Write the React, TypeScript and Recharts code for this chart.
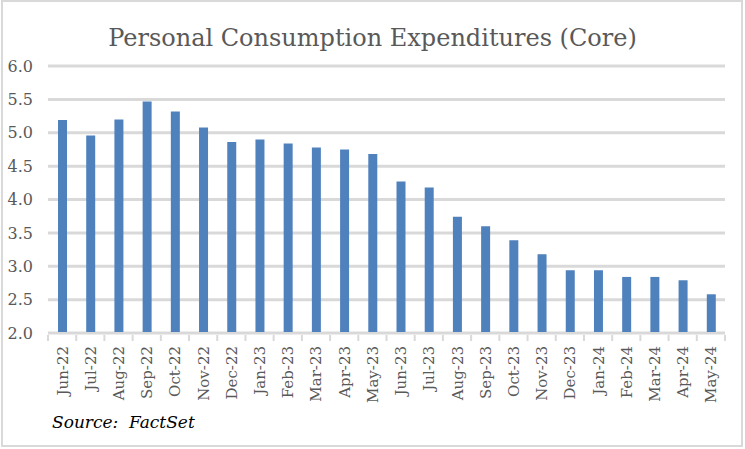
import { Bar, BarChart, CartesianGrid, XAxis, YAxis } from 'recharts'

const months = [
  'Jun-22', 'Jul-22', 'Aug-22', 'Sep-22', 'Oct-22', 'Nov-22', 'Dec-22', 'Jan-23',
  'Feb-23', 'Mar-23', 'Apr-23', 'May-23', 'Jun-23', 'Jul-23', 'Aug-23', 'Sep-23',
  'Oct-23', 'Nov-23', 'Dec-23', 'Jan-24', 'Feb-24', 'Mar-24', 'Apr-24', 'May-24',
]

const corePce = [
  5.19, 4.96, 5.2, 5.47, 5.32, 5.08, 4.86, 4.9, 4.84, 4.78, 4.75, 4.68,
  4.27, 4.18, 3.74, 3.6, 3.39, 3.18, 2.94, 2.94, 2.84, 2.84, 2.79, 2.58,
]

const yTicks = [2, 2.5, 3, 3.5, 4, 4.5, 5, 5.5, 6]

const data = months.map((name, i) => ({ name, value: corePce[i] }))

const W = 745
const H = 449
const MARGIN = { top: 66, right: 20, left: 0, bottom: 0 }
const Y_WIDTH = 48
const BAND = (W - MARGIN.right - Y_WIDTH) / months.length
const FONT = '"DejaVu Serif", serif'

function MonthTick(props: any) {
  const { x, y, payload, index } = props
  const half = BAND / 2
  return (
    <g>
      <line x1={x - half} x2={x - half} y1={y - 6} y2={y} stroke="#d9d9d9" strokeWidth={2} />
      {index === months.length - 1 && (
        <line x1={x + half} x2={x + half} y1={y - 6} y2={y} stroke="#d9d9d9" strokeWidth={2} />
      )}
      <text
        x={0}
        y={0}
        transform={`translate(${x + 5.5},${y + 5}) rotate(-90)`}
        textAnchor="end"
        fill="#595959"
        fontSize={15}
        fontFamily={FONT}
      >
        {payload.value}
      </text>
    </g>
  )
}

export default function App() {
  return (
    <div style={{ position: 'absolute', left: 0, top: 0, width: W, height: H, background: '#fff' }}>
      <div
        style={{
          position: 'absolute', left: 1, top: 0, width: 742, height: 447,
          border: '2px solid #d9d9d9', boxSizing: 'border-box',
        }}
      />
      <div
        style={{
          position: 'absolute', left: 0, top: 20, width: W, textAlign: 'center',
          fontFamily: FONT, fontSize: 24, color: '#595959', lineHeight: '36px',
        }}
      >
        Personal Consumption Expenditures (Core)
      </div>
      <BarChart width={W} height={H} data={data} margin={MARGIN} style={{ position: 'absolute', left: 0, top: 0 }}>
        <CartesianGrid stroke="#d9d9d9" strokeWidth={3} vertical={false} />
        <XAxis
          dataKey="name"
          interval={0}
          height={H - 333}
          axisLine={{ stroke: '#d9d9d9', strokeWidth: 2 }}
          tickLine={false}
          tick={<MonthTick />}
        />
        <YAxis
          domain={[2, 6]}
          ticks={yTicks}
          width={Y_WIDTH}
          axisLine={false}
          tickLine={false}
          tickMargin={9}
          tickFormatter={(v: number) => v.toFixed(1)}
          tick={{ fill: '#595959', fontSize: 16, fontFamily: FONT }}
        />
        <Bar dataKey="value" fill="#4f81bd" barSize={9} isAnimationActive={false} />
      </BarChart>
      <div
        style={{
          position: 'absolute', left: 52, top: 412, fontFamily: FONT, fontStyle: 'italic',
          fontSize: 17, color: '#000', whiteSpace: 'pre',
        }}
      >
        {'Source:  FactSet'}
      </div>
    </div>
  )
}
